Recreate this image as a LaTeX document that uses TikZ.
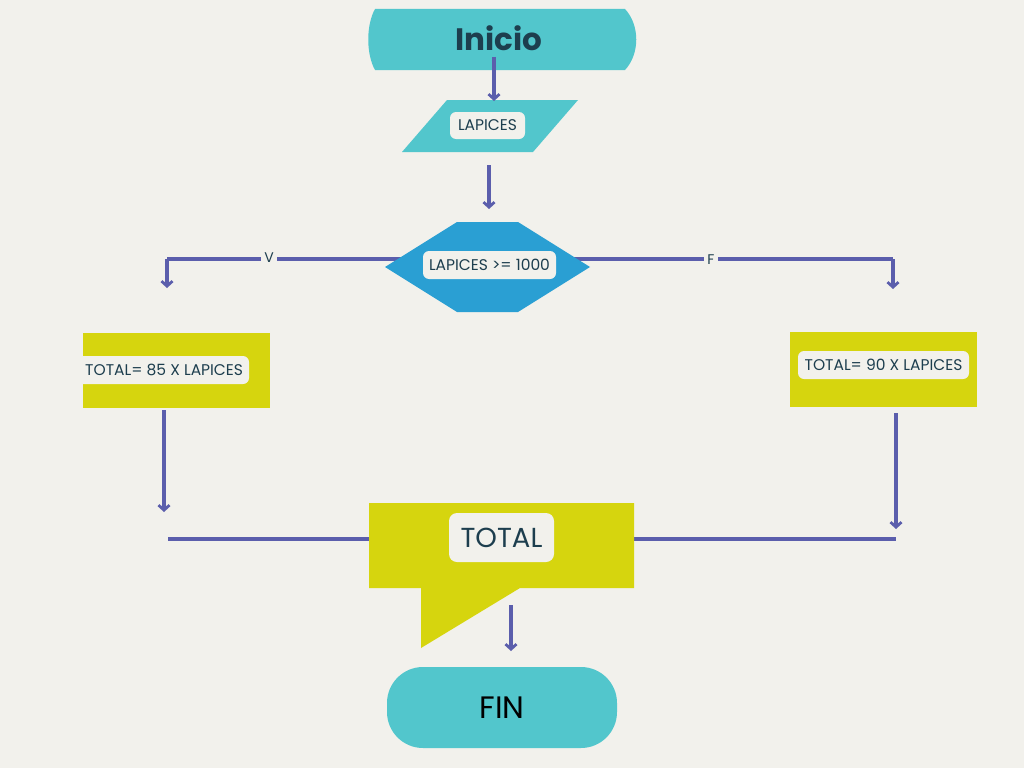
\documentclass[tikz,border=0pt]{standalone}
\usepackage{fontspec}
\setmainfont{Poppins}
\usetikzlibrary{arrows.meta}
\definecolor{bgc}{HTML}{F2F1EC}
\definecolor{tealc}{HTML}{52C6CC}
\definecolor{hexc}{HTML}{2A9FD3}
\definecolor{yelc}{HTML}{D6D50E}
\definecolor{arrc}{HTML}{5B5EAC}
\definecolor{txtc}{HTML}{1D3E4E}
\tikzset{
  conn/.style={draw=arrc, line width=3.2pt},
  arr/.style={conn, -{Straight Barb[length=5pt,width=11pt,line width=2.8pt]}},
  whitebox/.style={fill=bgc, rounded corners=6pt, inner sep=0pt, text=txtc},
  lbl/.style={fill=bgc, inner sep=3pt, text=txtc, font=\fontsize{14}{16}\selectfont},
}
\begin{document}
\begin{tikzpicture}[x=1pt,y=-1pt]
\fill[bgc] (0,0) rectangle (1024,768);
\useasboundingbox (0,0) rectangle (1024,768);

% named anchor points
\coordinate (a1s) at (494,57);
\coordinate (a1e) at (494,101);
\coordinate (a2s) at (489,165);
\coordinate (a2e) at (489,209);
\coordinate (dec) at (487,259);
\coordinate (lcorner) at (167,259);
\coordinate (lend) at (167,288);
\coordinate (rcorner) at (893,259);
\coordinate (rend) at (893,289);
\coordinate (l2s) at (164,410);
\coordinate (l2e) at (164,512);
\coordinate (r2s) at (896,413);
\coordinate (r2e) at (896,529);
\coordinate (mergeL) at (168,539);
\coordinate (mergeR) at (896,539);
\coordinate (a3s) at (511,605);
\coordinate (a3e) at (511,651);

% connectors behind shapes
\draw[conn] (dec) -- (lcorner);
\draw[arr] (lcorner) -- (lend);
\draw[conn] (dec) -- (rcorner);
\draw[arr] (rcorner) -- (rend);
\node[lbl] (vlab) at (269,258) {V};
\node[lbl] (flab) at (711,260) {F};
\draw[conn] (mergeL) -- (mergeR);

% Inicio terminal
\fill[tealc] (375,9) -- (625,9) .. controls (640,25) and (640,54) .. (625,70)
  -- (375,70) .. controls (366,54) and (366,25) .. (375,9) -- cycle;
\node[text=txtc, font=\fontsize{31}{34}\selectfont\bfseries] (inicio) at (499,38) {Inicio};

% LAPICES input
\fill[tealc] (447,100) -- (578,100) -- (533,152) -- (402,152) -- cycle;
\node[whitebox, minimum width=75pt, minimum height=27pt, font=\fontsize{15.5}{17}\selectfont] (lap) at (487.5,125.5) {LAPICES};

% decision hexagon
\fill[hexc] (385,267) -- (457,222) -- (518,222) -- (590,267) -- (518,312) -- (457,312) -- cycle;
\node[whitebox, minimum width=133pt, minimum height=28pt, font=\fontsize{15.5}{17}\selectfont] (cond) at (489.5,265) {LAPICES >= 1000};

% left process
\fill[yelc] (83,333) rectangle (270,408);
\begin{scope}
\clip (83,333) rectangle (270,408);
\node[whitebox, minimum width=180pt, minimum height=28pt] (lboxbg) at (159,370) {};
\end{scope}
\node[text=txtc, font=\fontsize{15.5}{17}\selectfont, anchor=west, inner sep=0pt] (ltxt) at (85,370) {TOTAL= 85 X LAPICES};

% right process
\fill[yelc] (790,332) rectangle (977,407);
\node[whitebox, minimum width=171pt, minimum height=28pt, font=\fontsize{15.5}{17}\selectfont] (rtxt) at (883.5,365) {TOTAL= 90 X LAPICES};

% arrows
\draw[arr] (a1s) -- (a1e);
\draw[arr] (a2s) -- (a2e);
\draw[arr] (l2s) -- (l2e);
\draw[arr] (r2s) -- (r2e);

% output callout
\fill[yelc] (369,503) -- (634,503) -- (634,588) -- (520,588) -- (421,648) -- (421,588) -- (369,588) -- cycle;
\node[whitebox, rounded corners=8pt, minimum width=105pt, minimum height=49pt, font=\fontsize{27.5}{30}\selectfont] (total) at (501.5,537.5) {TOTAL};
\draw[arr] (a3s) -- (a3e);

% FIN terminal
\fill[tealc, rounded corners=36pt] (387,667) rectangle (617,748);
\node[text=black, font=\fontsize{31}{34}\selectfont] (fin) at (502,708) {FIN};
\end{tikzpicture}
\end{document}
